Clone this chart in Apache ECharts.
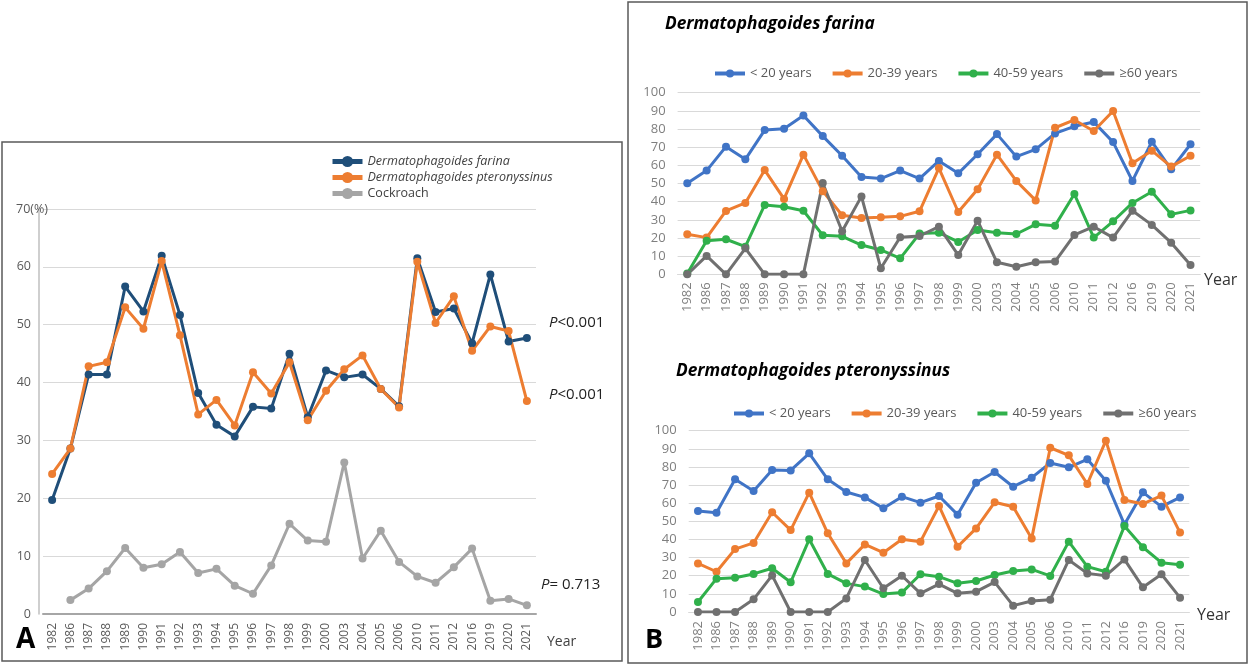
<!DOCTYPE html>
<html>
<head>
<meta charset="utf-8">
<script src="https://cdn.jsdelivr.net/npm/echarts@6/dist/echarts.min.js"></script>
<style>
html,body{margin:0;padding:0;background:#fff;}
#c{width:1249px;height:666px;}
</style>
</head>
<body>
<div id="c"></div>
<script>
const years = ['1982','1986','1987','1988','1989','1990','1991','1992','1993','1994','1995','1996','1997','1998','1999','2000','2003','2004','2005','2006','2010','2011','2012','2016','2019','2020','2021'];

// Panel A (%)
const aFarina = [19.7,28.6,41.4,41.4,56.6,52.3,61.9,51.7,38.2,32.7,30.7,35.8,35.5,45.0,34.0,42.1,40.9,41.4,38.9,35.9,61.5,52.2,52.8,46.8,58.7,47.1,47.7];
const aPteronyssinus = [24.2,28.6,42.8,43.5,53.0,49.3,61.0,48.2,34.5,37.0,32.6,41.8,38.1,43.5,33.5,38.6,42.3,44.7,38.9,35.7,60.9,50.3,54.9,45.5,49.7,48.9,36.8];
const aCockroach = [null,2.4,4.4,7.4,11.4,8.0,8.6,10.7,7.1,7.8,4.9,3.5,8.4,15.6,12.7,12.5,26.2,9.6,14.4,9.0,6.5,5.4,8.1,11.3,2.3,2.6,1.5];

// Panel B top: Dermatophagoides farina by age group
const fU20 = [50.1,57.1,70.3,63.3,79.4,80.2,87.5,76.1,65.3,53.6,52.7,57.1,52.7,62.4,55.6,66.1,77.2,64.8,68.8,77.6,81.5,83.9,72.8,51.4,73.0,57.8,71.6];
const f2039 = [22.0,20.2,34.9,39.3,57.4,41.5,65.9,45.8,32.5,31.0,31.4,31.9,34.7,58.5,34.3,46.8,65.9,51.4,40.7,80.7,85.0,78.9,89.9,61.1,68.1,59.3,65.3];
const f4059 = [0.5,18.5,19.3,15.2,38.2,37.2,35.0,21.5,20.9,16.1,13.4,8.8,22.4,22.9,17.8,24.4,22.9,22.2,27.5,26.8,44.2,20.2,29.2,39.3,45.5,33.0,35.2];
const f60 = [0,10.1,0,14.3,0,0,0,50.3,23.7,42.9,3.3,20.4,21.1,26.2,10.6,29.5,6.6,4.2,6.6,7.0,21.7,26.2,20.2,35.0,27.2,17.4,5.1];

// Panel B bottom: Dermatophagoides pteronyssinus by age group
const pU20 = [55.7,54.8,73.2,66.7,78.3,78.1,87.5,73.2,66.2,63.2,57.2,63.6,60.3,64.0,53.7,71.3,77.2,69.1,74.1,82.2,79.8,84.2,72.4,48.3,66.0,58.1,63.2];
const p2039 = [26.8,22.2,34.7,38.1,55.0,45.2,65.8,43.4,26.8,37.3,32.7,40.1,38.8,58.5,36.0,46.1,60.5,58.1,40.6,90.6,86.4,70.6,94.5,61.8,59.6,64.2,43.8];
const p4059 = [5.5,18.4,18.9,21.0,24.1,16.4,40.1,21.0,15.8,14.0,9.9,10.7,20.8,19.5,15.8,17.1,20.4,22.6,23.5,19.9,38.8,25.0,22.2,47.4,35.7,27.2,26.1];
const p60 = [0,0,0,7.0,20.2,0,0,0,7.5,28.7,13.1,20.0,10.3,15.4,10.3,11.2,16.5,3.5,6.1,6.8,28.7,21.3,20.0,29.0,13.6,20.8,7.9];

const aNames = ['Dermatophagoides farina','Dermatophagoides pteronyssinus','Cockroach'];
const bNames = ['< 20 years','20-39 years','40-59 years','\u226560 years'];

const FONT = '"Open Sans", "Noto Sans", sans-serif';
const aColors = ['#1f4e79','#ed7d31','#a5a5a5'];
const bColors = ['#4074c6','#ed7d31','#30b04b','#707070'];

function lineSeries(name, data, color, idx, sym) {
  return {
    name: name, type: 'line', data: data,
    xAxisIndex: idx, yAxisIndex: idx,
    symbol: 'circle', symbolSize: sym,
    lineStyle: {color: color, width: 3},
    itemStyle: {color: color},
    emphasis: {disabled: true},
    animation: false
  };
}

const series = [];
[aFarina, aPteronyssinus, aCockroach].forEach((d,i)=>series.push(lineSeries(aNames[i], d, aColors[i], 0, 8)));
[fU20, f2039, f4059, f60].forEach((d,i)=>series.push(lineSeries(bNames[i], d, bColors[i], 1, 8)));
[pU20, p2039, p4059, p60].forEach((d,i)=>series.push(lineSeries(bNames[i], d, bColors[i], 2, 8)));

function xAx(idx, fs, color, margin, lineColor, lineWidth) {
  return {
    type: 'category', gridIndex: idx, data: years, boundaryGap: true,
    axisLine: {show: true, lineStyle: {color: lineColor, width: lineWidth}},
    axisTick: {show: false},
    axisLabel: {rotate: 90, fontSize: fs, color: color, margin: margin, interval: 0, fontFamily: FONT},
    splitLine: {show: false}
  };
}
function yAx(idx, max, fs, color, margin, showLine, offset, fmt) {
  return {
    type: 'value', gridIndex: idx, min: 0, max: max, interval: 10, offset: offset,
    axisLine: {show: showLine, lineStyle: {color: '#bfbfbf', width: 1.5}},
    axisTick: {show: false},
    axisLabel: {fontSize: fs, color: color, margin: margin, fontFamily: FONT, formatter: fmt},
    splitLine: {show: true, lineStyle: {color: '#d9d9d9', width: 1.2}}
  };
}

function txt(x, y, text, font, fill, align, rich) {
  const st = {x: x, y: y, text: text, font: font, fill: fill,
    textAlign: align || 'left', align: align || 'left',
    textVerticalAlign: 'middle', verticalAlign: 'middle'};
  if (rich) st.rich = rich;
  return {type: 'text', silent: true, style: st, z: 100};
}

const pRich = {i: {fontStyle: 'italic', fontSize: 15, fontFamily: FONT, fill: '#222', color: '#222'}};

const chart = echarts.init(document.getElementById('c'), null, {renderer: 'canvas'});
chart.setOption({
  animation: false,
  backgroundColor: '#fff',
  textStyle: {fontFamily: FONT},
  grid: [
    {left: 43, right: 713, top: 209, bottom: 52},
    {left: 677.6, right: 48.8, top: 92.7, bottom: 391.7},
    {left: 688.7, right: 59.7, top: 430.7, bottom: 54}
  ],
  xAxis: [
    xAx(0, 12, '#595959', 9, '#a6a6a6', 2),
    xAx(1, 13, '#7f7f7f', 8, '#d9d9d9', 1.2),
    xAx(2, 13, '#7f7f7f', 9, '#d9d9d9', 1.2)
  ],
  yAxis: [
    yAx(0, 70, 12.5, '#595959', 8, true, 4, v => v === 70 ? '' : String(v)),
    yAx(1, 100, 13, '#7f7f7f', 12, false, 0),
    yAx(2, 100, 13, '#7f7f7f', 12, false, 0)
  ],
  legend: [
    {
      data: [
        {name: aNames[0], textStyle: {fontStyle: 'italic'}},
        {name: aNames[1], textStyle: {fontStyle: 'italic'}},
        {name: aNames[2]}
      ],
      orient: 'vertical', left: 330, top: 155, padding: 0, itemWidth: 30, itemHeight: 14, itemGap: 3,
      lineStyle: {width: 5}, selectedMode: false,
      textStyle: {fontSize: 12.5, color: '#404040', fontFamily: FONT}
    },
    {
      data: bNames, left: 713, top: 67, padding: 0, itemWidth: 30, itemHeight: 10, itemGap: 19,
      lineStyle: {width: 4}, selectedMode: false,
      textStyle: {fontSize: 13, color: '#595959', fontFamily: FONT}
    },
    {
      data: bNames, left: 732, top: 407, padding: 0, itemWidth: 30, itemHeight: 10, itemGap: 19,
      lineStyle: {width: 4}, selectedMode: false,
      textStyle: {fontSize: 13, color: '#595959', fontFamily: FONT}
    }
  ],
  graphic: [
    {type: 'rect', silent: true, shape: {x: 2, y: 142, width: 620, height: 519}, style: {fill: 'none', stroke: '#5a5a5a', lineWidth: 1.5}},
    {type: 'rect', silent: true, shape: {x: 628, y: 2, width: 619, height: 661}, style: {fill: 'none', stroke: '#5a5a5a', lineWidth: 1.5}},
    txt(16, 209, '70(%)', '12.5px ' + FONT, '#595959'),
    txt(547, 642, 'Year', '14px ' + FONT, '#404040'),
    txt(16, 640, 'A', 'bold 28px ' + FONT, '#000'),
    txt(549, 323, '{i|P}<0.001', '15px ' + FONT, '#222', 'left', pRich),
    txt(549, 395, '{i|P}<0.001', '15px ' + FONT, '#222', 'left', pRich),
    txt(541, 585, '{i|P}= 0.713', '15px ' + FONT, '#222', 'left', pRich),
    txt(665, 24, 'Dermatophagoides farina', 'italic bold 17.3px ' + FONT, '#000'),
    txt(676, 371, 'Dermatophagoides pteronyssinus', 'italic bold 17.3px ' + FONT, '#000'),
    txt(1204, 280, 'Year', '16px ' + FONT, '#333'),
    txt(1197, 615, 'Year', '16px ' + FONT, '#333'),
    txt(645, 640, 'B', 'bold 27px ' + FONT, '#000')
  ],
  series: series
});
</script>
</body>
</html>
